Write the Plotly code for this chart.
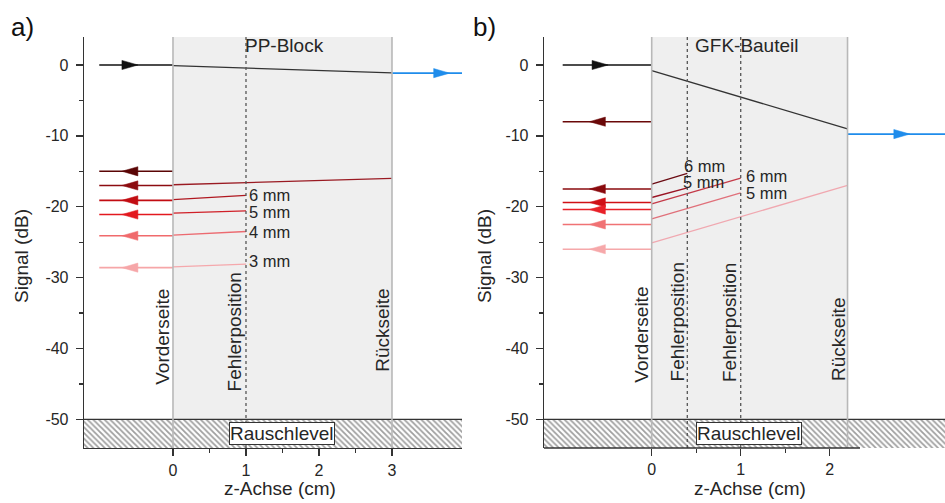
import plotly.graph_objects as go

# ---------------- data ----------------
NOISE_LEVEL = -50.0

# Panel a) PP-Block
a_source_x = -1.01
a_back_x = 3.0
a_defect_x = [1.0]
a_in_level = 0.0
a_inside_start = -0.1
a_inside_end = -1.1
a_out_level = -1.15
a_refl_levels = [-15.0, -17.0, -19.1, -21.1, -24.1, -28.6]
a_echo_x = [None, 3.0, 1.0, 1.0, 1.0, 1.0]
a_echo_start = [None, -16.9, -19.0, -20.9, -24.0, -28.5]
a_echo_end = [None, -16.0, -18.4, -20.6, -23.5, -28.1]
a_echo_labels = [None, None, "6 mm", "5 mm", "4 mm", "3 mm"]
a_colors = ["#5a0505", "#8c0c10", "#c20d12", "#e3191f", "#f06a6c", "#f6a6a8"]
a_line_colors = ["#5a0505", "#9a1a22", "#b01820", "#d02028", "#ec6a70", "#f5a8ac"]

# Panel b) GFK-Bauteil
b_source_x = -1.0
b_back_x = 2.2
b_defect_x = [0.4, 1.0]
b_in_level = 0.0
b_inside_start = -0.8
b_inside_end = -9.0
b_out_level = -9.75
b_refl_levels = [-8.0, -17.5, -19.4, -20.4, -22.5, -26.0]
b_echo_x = [None, 0.4, 0.4, 1.0, 1.0, 2.2]
b_echo_start = [None, -16.8, -18.7, -19.6, -21.7, -25.1]
b_echo_end = [None, -15.3, -17.35, -15.96, -18.05, -17.0]
b_echo_labels = [None, "6 mm", "5 mm", "6 mm", "5 mm", None]
b_colors = ["#6a0808", "#8a0a0e", "#d01016", "#e82028", "#f07274", "#f6a8aa"]
b_line_colors = [None, "#6a0a12", "#9a1424", "#c43a48", "#e0707a", "#f0a8b0"]

y_ticks = [0, -10, -20, -30, -40, -50]
y_ticktext = ["0", "-10", "-20", "-30", "-40", "-50"]
y_minor = [-5, -15, -25, -35, -45]
a_x_ticks = [0, 1, 2, 3]
a_x_minor = [0.5, 1.5, 2.5]
b_x_ticks = [0, 1, 2]
b_x_minor = [0.5, 1.5]

# ---------------- layout geometry (reference pixel positions) ----------------
W, H = 945, 503
A_DOM = (84, 462)
B_DOM = (544, 945)
Y_TOP, Y_BOT = 37, 448
A_XR = [-1.219, 3.959]
B_XR = [-1.21, 3.295]
YR = [-54.05, 3.95]
B_AXIS_END = 2.34


def fx(px):
    return px / W


def fy(py):
    return 1 - py / H


FONT = "Arial, 'Liberation Sans', sans-serif"
TXT = "#262626"
AX = "#333333"

px_x_a = (A_DOM[1] - A_DOM[0]) / (A_XR[1] - A_XR[0])
px_x_b = (B_DOM[1] - B_DOM[0]) / (B_XR[1] - B_XR[0])
px_y = (Y_BOT - Y_TOP) / (YR[1] - YR[0])
HEAD_L, HEAD_H = 16, 4.6

fig = go.Figure()


def line(xs, ys, color, width, xa, ya):
    fig.add_trace(go.Scatter(x=xs, y=ys, mode="lines", line=dict(color=color, width=width),
                             xaxis=xa, yaxis=ya, hoverinfo="skip", showlegend=False))


def head(xtip, y, direction, color, xa, ya, pxx):
    dx = HEAD_L / pxx * (-direction)
    dy = HEAD_H / px_y
    fig.add_trace(go.Scatter(x=[xtip, xtip + dx, xtip + dx, xtip], y=[y, y + dy, y - dy, y],
                             mode="lines", fill="toself", fillcolor=color,
                             line=dict(color=color, width=0.5),
                             xaxis=xa, yaxis=ya, hoverinfo="skip", showlegend=False))


def hatch(xr, xa, ya):
    fig.add_trace(go.Scatter(x=[xr[0], xr[1], xr[1], xr[0], xr[0]],
                             y=[NOISE_LEVEL, NOISE_LEVEL, YR[0], YR[0], NOISE_LEVEL],
                             mode="lines", fill="toself", fillcolor="white",
                             fillpattern=dict(shape="\\", size=4, solidity=0.45,
                                              fgcolor="#404040", bgcolor="white"),
                             line=dict(width=0, color="rgba(0,0,0,0)"),
                             xaxis=xa, yaxis=ya, hoverinfo="skip", showlegend=False))
    line([xr[0], xr[1]], [NOISE_LEVEL, NOISE_LEVEL], AX, 1.2, xa, ya)


def panel(xa, ya, xr, pxx, source_x, back_x, in_level, inside_start, inside_end, out_level,
          refl, echo_x, echo_s, echo_e, colors, lcolors, in_head_tip, out_head_tip):
    hatch(xr, xa, ya)
    line([source_x, 0], [in_level, in_level], "#111111", 1.6, xa, ya)
    head(in_head_tip, in_level, 1, "#111111", xa, ya, pxx)
    line([0, back_x], [inside_start, inside_end], "#333333", 1.3, xa, ya)
    line([back_x, xr[1]], [out_level, out_level], "#1f8ceb", 1.8, xa, ya)
    head(out_head_tip, out_level, 1, "#1f8ceb", xa, ya, pxx)
    for i, lv in enumerate(refl):
        line([0, source_x], [lv, lv], colors[i], 1.6, xa, ya)
        head(-0.70, lv, -1, colors[i], xa, ya, pxx)
        if echo_x[i] is not None:
            line([0, echo_x[i]], [echo_s[i], echo_e[i]], lcolors[i], 1.3, xa, ya)


panel("x", "y", A_XR, px_x_a, a_source_x, a_back_x, a_in_level, a_inside_start, a_inside_end,
      a_out_level, a_refl_levels, a_echo_x, a_echo_start, a_echo_end, a_colors, a_line_colors,
      -0.48, 3.79)
panel("x2", "y2", B_XR, px_x_b, b_source_x, b_back_x, b_in_level, b_inside_start, b_inside_end,
      b_out_level, b_refl_levels, b_echo_x, b_echo_start, b_echo_end, b_colors, b_line_colors,
      -0.49, 2.90)

shapes = []
annotations = []

for xr_, yr_, back, defects in (("x", "y", a_back_x, a_defect_x), ("x2", "y2", b_back_x, b_defect_x)):
    shapes.append(dict(type="rect", xref=xr_, yref=yr_ + " domain", x0=0, x1=back, y0=0, y1=1,
                       fillcolor="#efefef", line=dict(width=0), layer="below"))
    for xv in (0, back):
        shapes.append(dict(type="line", xref=xr_, yref=yr_ + " domain", x0=xv, x1=xv, y0=0, y1=1,
                           line=dict(color="#b8b8b8", width=1.6), layer="above"))
    for xv in defects:
        shapes.append(dict(type="line", xref=xr_, yref=yr_ + " domain", x0=xv, x1=xv, y0=0, y1=1,
                           line=dict(color="#555555", width=1.3, dash="dot"), layer="above"))

shapes.append(dict(type="line", xref="x2", yref="y2 domain", x0=B_XR[0], x1=B_AXIS_END, y0=0, y1=0,
                   line=dict(color=AX, width=1.3), layer="above"))


def ann(text, x, y, xref, yref, size, **kw):
    d = dict(text=text, x=x, y=y, xref=xref, yref=yref, showarrow=False,
             xanchor="center", yanchor="middle",
             font=dict(family=FONT, size=size, color=kw.pop("color", TXT)))
    d.update(kw)
    annotations.append(d)


a_lab_pos = [None, None, (1.03, -18.4), (1.03, -20.7), (1.03, -23.6), (1.03, -27.6)]
for lab, pos in zip(a_echo_labels, a_lab_pos):
    if lab:
        ann(lab, pos[0], pos[1], "x", "y", 16.5, xanchor="left", borderpad=0)
b_lab_pos = [None, (0.35, -14.2), (0.34, -16.5), (1.05, -15.7), (1.05, -18.1), None]
for lab, pos in zip(b_echo_labels, b_lab_pos):
    if lab:
        ann(lab, pos[0], pos[1], "x2", "y2", 16.5, xanchor="left", borderpad=0)

ann("PP-Block", 1.53, 2.75, "x", "y", 19)
ann("GFK-Bauteil", 1.06, 2.75, "x2", "y2", 19)

for t, x, y in (("Vorderseite", -0.145, -38.3), ("Fehlerposition", 0.84, -37.7), ("Rückseite", 2.86, -37.4)):
    ann(t, x, y, "x", "y", 19, textangle=-90)
for t, x, y in (("Vorderseite", -0.116, -38.0), ("Fehlerposition", 0.286, -36.3),
                ("Fehlerposition", 0.866, -36.3), ("Rückseite", 2.09, -38.7)):
    ann(t, x, y, "x2", "y2", 19, textangle=-90)

for xr_, yr_, xv in (("x", "y", 1.49), ("x2", "y2", 1.09)):
    ann("Rauschlevel", xv, -51.95, xr_, yr_, 19, bgcolor="white", bordercolor=AX,
        borderwidth=1, borderpad=0)

for xc in (280, 750):
    ann("z-Achse (cm)", fx(xc), fy(488), "paper", "paper", 19)
for xc in (22, 485):
    ann("Signal (dB)", fx(xc), fy(256), "paper", "paper", 19, textangle=-90)
ann("a)", fx(22), fy(27), "paper", "paper", 26, color="#111111")
ann("b)", fx(484), fy(27), "paper", "paper", 26, color="#111111")

ydom = [fy(Y_BOT), fy(Y_TOP)]
common_x = dict(showgrid=False, zeroline=False, ticks="outside", ticklen=7, tickwidth=1.3,
                tickcolor=AX, linecolor=AX, linewidth=1.3, tickmode="array",
                tickfont=dict(family=FONT, size=16, color=TXT), fixedrange=True)
common_y = dict(showgrid=False, zeroline=False, ticks="outside", ticklen=7, tickwidth=1.3,
                tickcolor=AX, linecolor=AX, linewidth=1.3, showline=True, range=YR,
                domain=ydom, tickmode="array", tickvals=y_ticks, ticktext=y_ticktext,
                ticklabelstandoff=4,
                minor=dict(tickmode="array", tickvals=y_minor, ticks="outside", ticklen=4,
                           tickcolor=AX, tickwidth=1.3),
                tickfont=dict(family=FONT, size=16, color=TXT), fixedrange=True)

fig.update_layout(
    width=W, height=H, margin=dict(l=0, r=0, t=0, b=0),
    paper_bgcolor="white", plot_bgcolor="rgba(0,0,0,0)",
    xaxis=dict(common_x, domain=[fx(A_DOM[0]), fx(A_DOM[1])], range=A_XR, anchor="y",
               showline=True, tickvals=a_x_ticks,
               minor=dict(tickmode="array", tickvals=a_x_minor, ticks="outside", ticklen=4,
                          tickcolor=AX, tickwidth=1.3)),
    xaxis2=dict(common_x, domain=[fx(B_DOM[0]), fx(B_DOM[1])], range=B_XR, anchor="y2",
                showline=False, tickvals=b_x_ticks,
                minor=dict(tickmode="array", tickvals=b_x_minor, ticks="outside", ticklen=4,
                           tickcolor=AX, tickwidth=1.3)),
    yaxis=dict(common_y, anchor="x"),
    yaxis2=dict(common_y, anchor="x2"),
    shapes=shapes, annotations=annotations,
    showlegend=False,
)

fig.write_html(
    "out.html",
    config={"displayModeBar": False, "staticPlot": True},
    post_script="document.body.style.margin='0';document.body.style.overflow='hidden';"
                "document.documentElement.style.overflow='hidden';",
)
